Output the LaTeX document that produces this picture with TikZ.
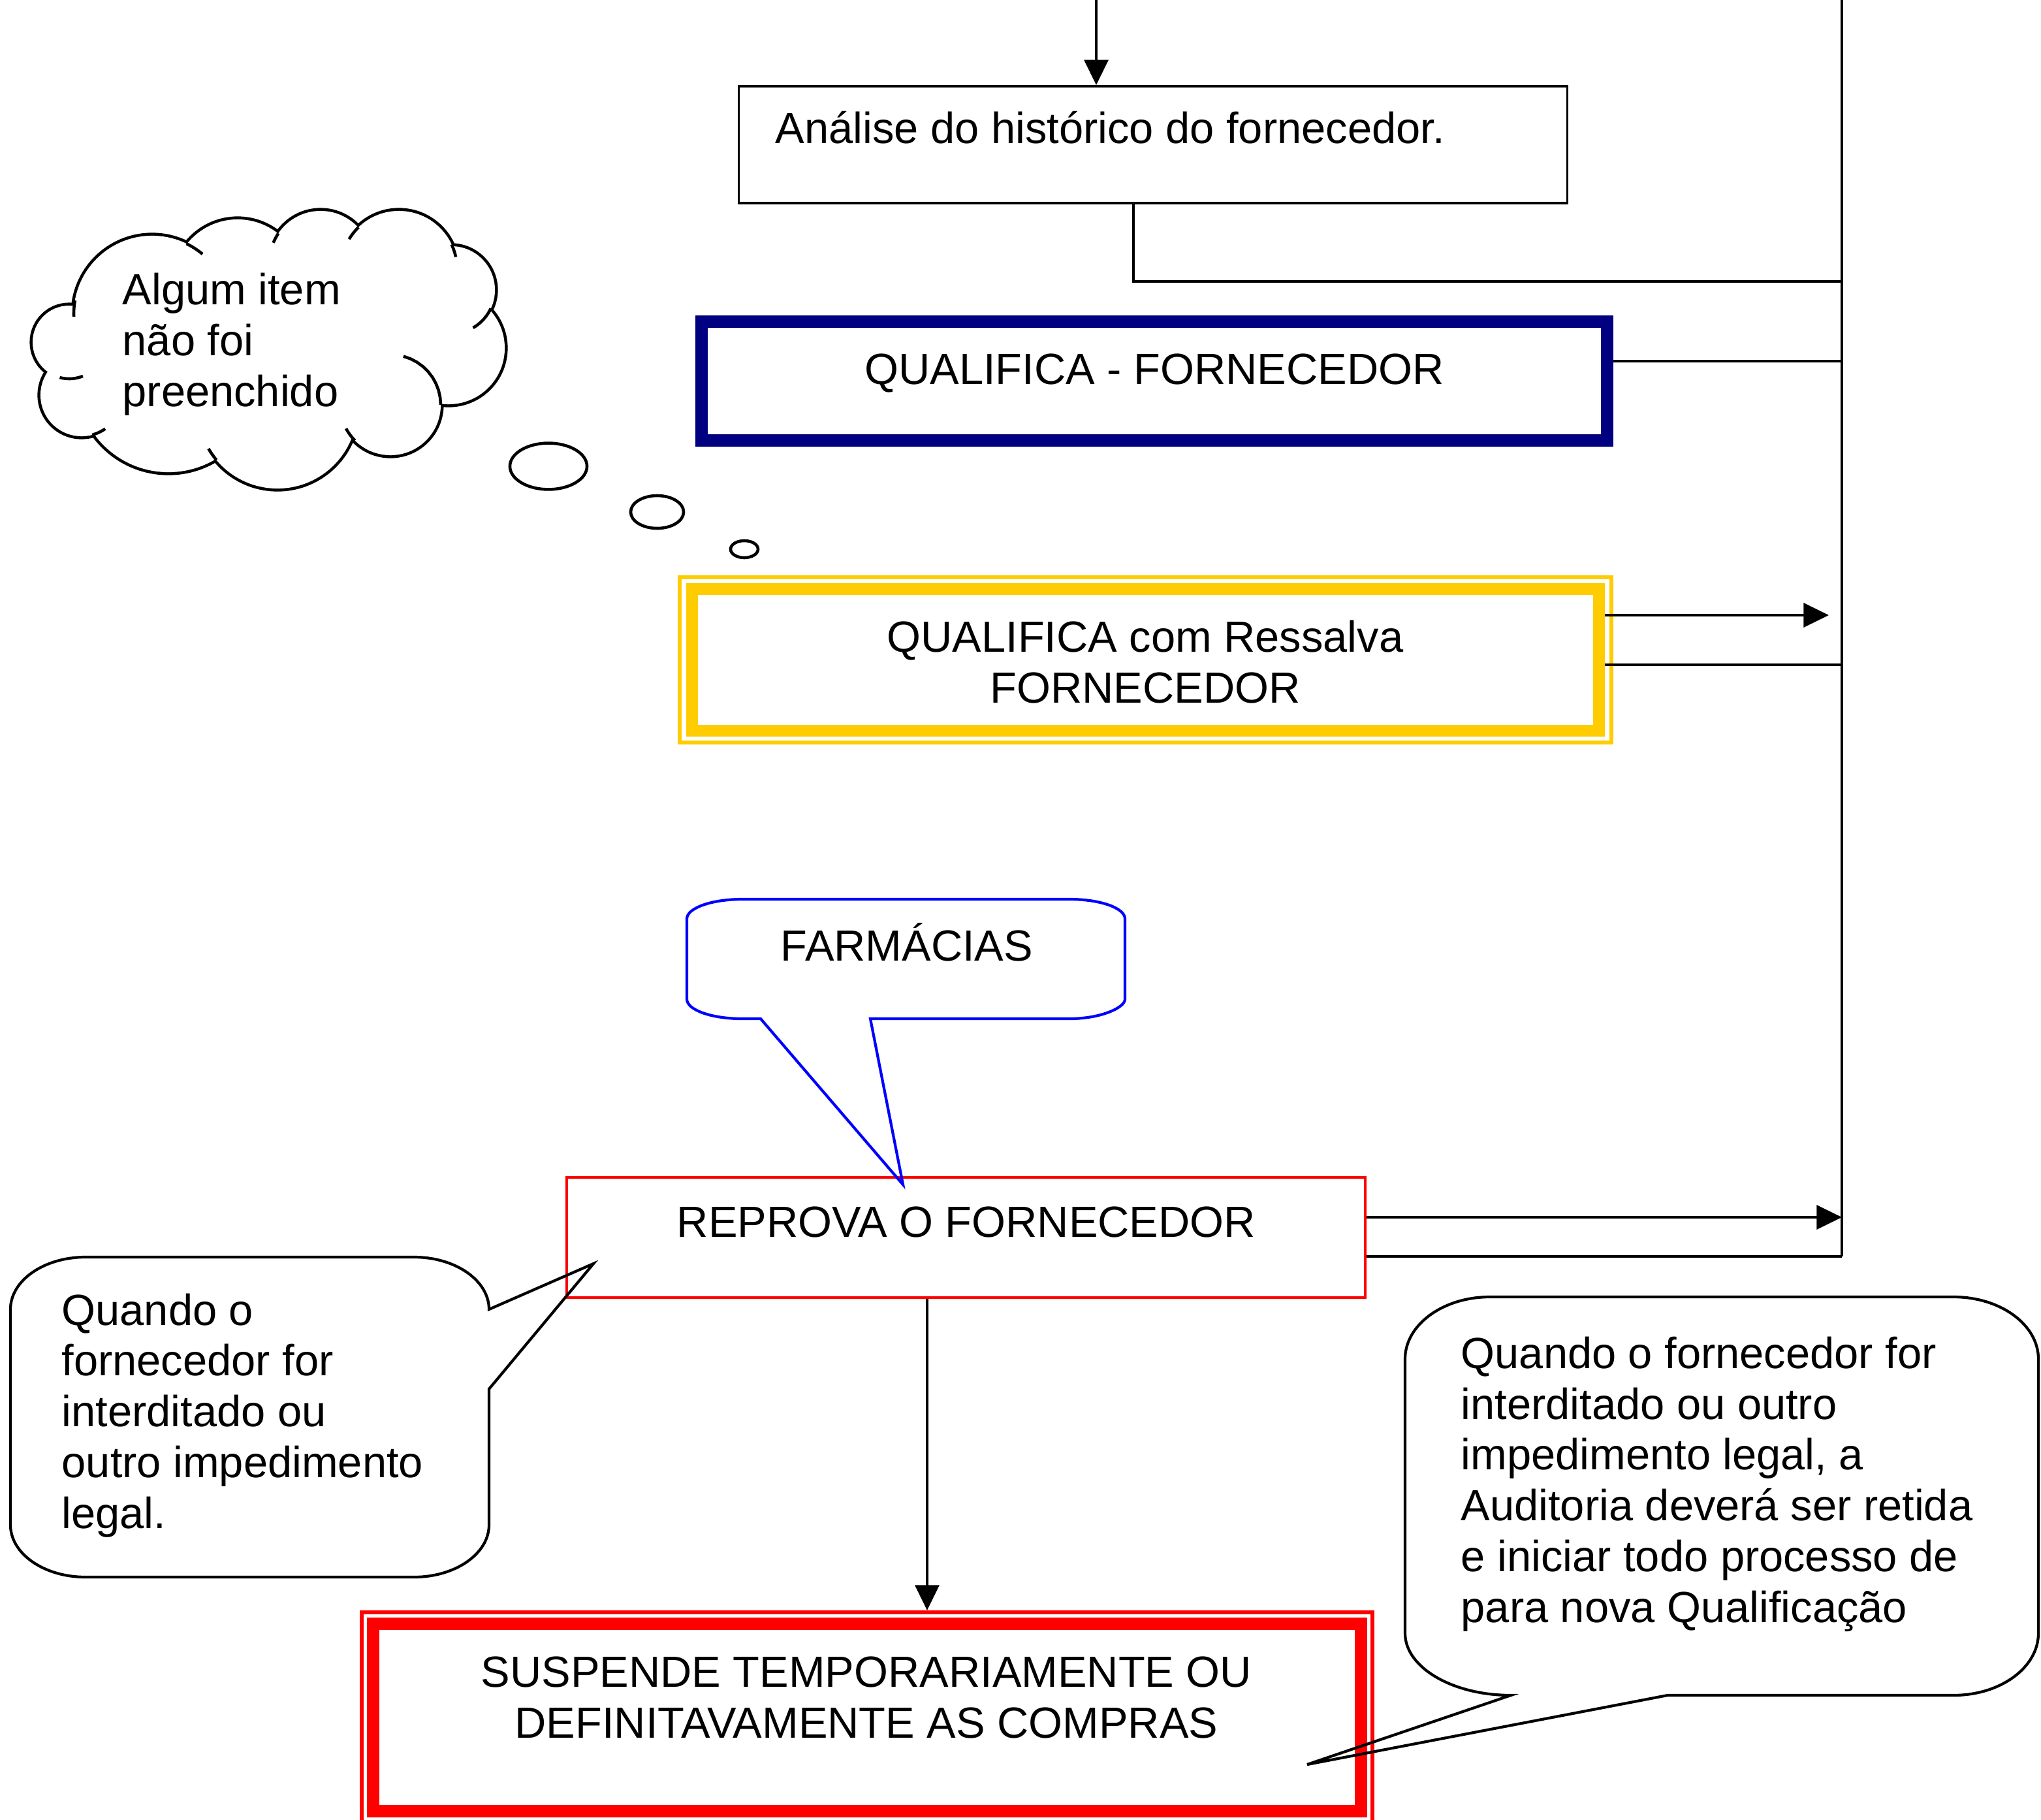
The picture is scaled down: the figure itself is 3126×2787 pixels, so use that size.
\documentclass[tikz,border=0pt]{standalone}
\usepackage{fontspec}
\setmainfont{Liberation Sans}
\usetikzlibrary{arrows.meta,calc}
\definecolor{navyq}{RGB}{0,0,128}
\definecolor{goldq}{RGB}{255,204,0}
\definecolor{redq}{RGB}{255,0,0}
\definecolor{blueq}{RGB}{0,0,255}
\begin{document}
\begin{tikzpicture}[x=0.01cm,y=-0.01cm,
  txt/.style={inner sep=0pt, font=\fontsize{19}{22.1}\selectfont},
  conn/.style={draw=black, line width=1.1pt},
  arr/.style={conn, -{Triangle[length=11pt,width=10.5pt]}},
  box/.style={draw, rectangle, inner sep=0pt},
  cloudw/.style={line width=1.3pt},
  callout/.style={line width=1.2pt},
]
\useasboundingbox (0,0) rectangle (3126,2787);

% ---------- boxes ----------
\node[box, line width=1pt, minimum width=12.68cm, minimum height=1.79cm] (ana) at (1766,221.5) {};
\node[box, draw=navyq, line width=0.19cm, minimum width=13.865cm, minimum height=1.815cm] (qual) at (1767.75,583.75) {};
\node[box, draw=goldq, line width=0.06cm, minimum width=14.27cm, minimum height=2.53cm] (goldo) at (1754.5,1010.5) {};
\node[box, draw=goldq, line width=0.18cm, minimum width=13.89cm, minimum height=2.16cm] (gold) at (1754.5,1010.5) {};
\node[box, draw=redq, line width=0.04cm, minimum width=12.23cm, minimum height=1.84cm] (rep) at (1479.5,1895) {};
\node[box, draw=redq, line width=0.06cm, minimum width=15.48cm, minimum height=3.22cm] (suso) at (1328,2630) {};
\node[box, draw=redq, line width=0.19cm, minimum width=15.12cm, minimum height=2.86cm] (sus) at (1328,2630) {};

% ---------- texts (multi-line nodes: base = last line) ----------
\node[txt, anchor=base west] (anat) at (1187,219) {Análise do histórico do fornecedor.};
\node[txt, anchor=base] (qualt) at (1768,588) {QUALIFICA - FORNECEDOR};
\node[txt, anchor=base, align=center] (goldt) at (1754,1076.5) {QUALIFICA com Ressalva\\FORNECEDOR};
\node[txt, anchor=base] (farmt) at (1389,1471) {FARMÁCIAS};
\node[txt, anchor=base] (rept) at (1480,1894) {REPROVA O FORNECEDOR};
\node[txt, anchor=base, align=center] (sust) at (1327,2661) {SUSPENDE TEMPORARIAMENTE OU\\DEFINITAVAMENTE AS COMPRAS};
\node[txt, anchor=base west, align=left] (leftt) at (94,2340) {Quando o\\fornecedor for\\interditado ou\\outro impedimento\\legal.};
\node[txt, anchor=base west, align=left] (rightt) at (2237,2484) {Quando o fornecedor for\\interditado ou outro\\impedimento legal, a\\Auditoria deverá ser retida\\e iniciar todo processo de\\para nova Qualificação};

% ---------- connectors ----------
\coordinate (vt) at (2821,0);
\coordinate (vb) at (2821,1924);
\coordinate (in0) at (1679,0);
\coordinate (gtip) at (2801,942);
\draw[conn] (vt) -- (vb);
\draw[arr] (in0) -- (in0 |- ana.north);
\draw[conn] ([xshift=-0.3cm]ana.south) |- (vt |- 0,431);
\draw[conn] (qual.east |- 0,553) -- (vt |- 0,553);
\draw[arr] (gold.east |- 0,942) -- (gtip);
\draw[conn] (gold.east |- 0,1018) -- (vt |- 0,1018);
\draw[arr] (rep.east |- 0,1864) -- (vt |- 0,1864);
\draw[conn] (rep.east |- 0,1924) -- (vb);
\draw[arr] ([xshift=-0.595cm]rep.south) -- ([xshift=-0.595cm]rep.south |- suso.north);

% ---------- callouts ----------
\draw[callout, draw=blueq] (1333,1560) -- (1638,1560) .. controls (1685,1560) and (1723,1543.4) .. (1723,1530) -- (1723,1407) .. controls (1723,1390.4) and (1685,1377) .. (1638,1377) -- (1137,1377) .. controls (1090,1377) and (1052,1390.4) .. (1052,1407) -- (1052,1530) .. controls (1052,1546.6) and (1090,1560) .. (1137,1560) -- (1165,1560) -- (1383,1814) -- cycle;

\draw[callout] (749,2127) -- (749,2335) .. controls (749,2379.2) and (697.5,2415) .. (634,2415) -- (131,2415) .. controls (67.5,2415) and (16,2379.2) .. (16,2335) -- (16,2005) .. controls (16,1960.8) and (67.5,1925) .. (131,1925) -- (634,1925) .. controls (697.5,1925) and (749,1960.8) .. (749,2005) -- (909,1935) -- cycle;

\draw[callout] (2554,2596) -- (2992,2596) .. controls (3063.8,2596) and (3122,2553.5) .. (3122,2501) -- (3122,2081) .. controls (3122,2028.5) and (3063.8,1986) .. (2992,1986) -- (2282,1986) .. controls (2210.2,1986) and (2152,2028.5) .. (2152,2081) -- (2152,2501) .. controls (2152,2553.5) and (2225,2596) .. (2314,2596) -- (2002,2702) -- cycle;

% ---------- thought cloud ----------
\foreach \cx/\cy/\r in {106/524/0.56, 125/605/0.63, 258/583/1.40, 425/626/1.22, 598/620/0.77, 687/533/0.86, 691/444/0.67, 611/412/0.89, 491/401/0.78, 364/435/0.99, 233/481/1.20}
  \draw[line width=2.6pt] (\cx,\cy) circle[radius=\r cm];
\foreach \cx/\cy/\r in {106/524/0.56, 125/605/0.63, 258/583/1.40, 425/626/1.22, 598/620/0.77, 687/533/0.86, 691/444/0.67, 611/412/0.89, 491/401/0.78, 364/435/0.99, 233/481/1.20}
  \fill[white] (\cx,\cy) circle[radius=\r cm];
\fill[white] (131,472) -- (134,576) -- (170,662) -- (324,690) -- (525,665) -- (666,614) -- (740,478) -- (682,391) -- (538,365) -- (422,377) -- (303,389) -- cycle;
\foreach \cx/\cy/\r/\a/\b in {233/481/120/-64/-50, 233/481/120/190/178, 491/401/78/-146/-158, 611/412/89/-134/-149, 611/412/89/-25/-12, 691/444/67/25/60, 598/620/77/-75/0, 598/620/77/135/152, 425/626/122/150/140, 125/605/63/55/75, 106/524/56/68/105}
  \draw[cloudw] plot[domain=\a:\b, samples=10] ({\cx+\r*cos(\x)},{\cy+\r*sin(\x)});
\node[txt, anchor=base west, align=left] (cloudt) at (187,622) {Algum item\\não foi\\preenchido};
\draw[cloudw] (840,714) ellipse[x radius=0.59cm, y radius=0.354cm];
\draw[cloudw] (1006.5,784) ellipse[x radius=0.405cm, y radius=0.25cm];
\draw[cloudw] (1140,841) ellipse[x radius=0.21cm, y radius=0.13cm];
\end{tikzpicture}
\end{document}
